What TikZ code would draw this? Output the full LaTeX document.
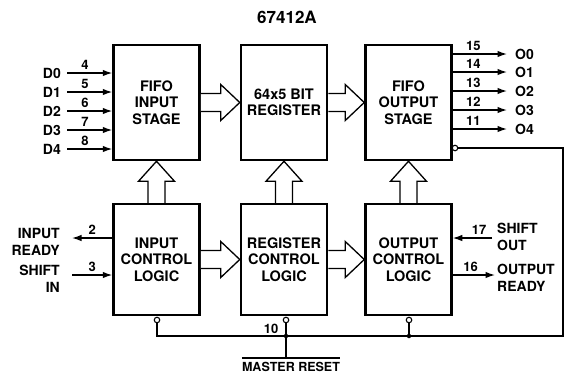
\documentclass[tikz,border=0pt]{standalone}
\usepackage{fontspec}
\setmainfont{TeX Gyre Heros}
\usetikzlibrary{arrows.meta,calc}
\newcommand\hollowH[2]{\draw[hol] let \p1=(#1.east), \p2=(#2.west) in (\x1,\y1+9pt) -- (\x2-19pt,\y1+9pt) -- (\x2-19pt,\y1+18pt) -- (\x2,\y1) -- (\x2-19pt,\y1-18pt) -- (\x2-19pt,\y1-9pt) -- (\x1,\y1-9pt);}
\newcommand\hollowV[2]{\draw[hol] let \p1=(#1.north), \p2=(#2.south) in (\x1-8.5pt,\y1) -- (\x1-8.5pt,\y2-20pt) -- (\x1-18pt,\y2-20pt) -- (\x1,\y2) -- (\x1+18pt,\y2-20pt) -- (\x1+8.5pt,\y2-20pt) -- (\x1+8.5pt,\y1);}
\begin{document}
\begin{tikzpicture}[x=1pt,y=-1pt,
  blk/.style={draw, line width=2.5pt, minimum width=86pt, inner sep=0pt, align=center, font=\bfseries\fontsize{14.5}{16.5}\selectfont},
  sig/.style={line width=1.3pt, -{Latex[length=9.5pt,width=6.5pt]}},
  wire/.style={line width=1.3pt},
  lbl/.style={font=\bfseries\fontsize{14}{17}\selectfont, inner sep=0pt},
  num/.style={font=\bfseries\fontsize{13}{13}\selectfont, inner sep=2.5pt},
  hol/.style={line width=1.3pt, fill=white, line join=miter},
  bub/.style={circle, draw, line width=1.1pt, minimum size=5.5pt, inner sep=0pt, fill=white},
  dot/.style={circle, fill, minimum size=4.5pt, inner sep=0pt}]
\useasboundingbox (0,0) rectangle (567,376);
\node[font=\bfseries\fontsize{17}{20}\selectfont] (title) at (287,17) {67412A};
% blocks
\node[blk, minimum height=115pt] (fin) at (156.5,102.5) {FIFO\\INPUT\\STAGE};
\node[blk, minimum height=115pt] (reg) at (284,102.5) {64x5 BIT\\REGISTER};
\node[blk, minimum height=115pt] (fout) at (408.5,102.5) {FIFO\\OUTPUT\\STAGE};
\node[blk, minimum height=111pt] (icl) at (156.5,259.5) {INPUT\\CONTROL\\LOGIC};
\node[blk, minimum height=111pt] (rcl) at (284,259.5) {REGISTER\\CONTROL\\LOGIC};
\node[blk, minimum height=111pt] (ocl) at (408.5,259.5) {OUTPUT\\CONTROL\\LOGIC};
% hollow arrows
\hollowH{fin}{reg}
\hollowH{reg}{fout}
\hollowH{icl}{rcl}
\hollowH{rcl}{ocl}
\hollowV{icl}{fin}
\hollowV{rcl}{reg}
\hollowV{ocl}{fout}
% data inputs
\foreach \i/\y/\n in {0/73/4,1/92/5,2/111/6,3/130/7,4/149/8} {
  \node[lbl, anchor=east, inner xsep=6pt] (d\i) at (67,\y) {D\i};
  \draw[sig] (d\i.east) -- (d\i.east -| fin.west) node[num, pos=0.4, above] {\n};
}
% data outputs
\foreach \i/\y/\n in {0/54/15,1/72/14,2/91/13,3/110/12,4/129/11} {
  \node[lbl, anchor=west, inner xsep=8pt] (o\i) at (507,\y) {O\i};
  \draw[sig] (o\i.west -| fout.east) -- (o\i.west) node[num, pos=0.38, above] {\n};
}
% input control
\node[lbl, align=right, anchor=east] (ir) at (60,241.5) {INPUT\\READY};
\node[lbl, align=right, anchor=east] (si) at (60,278.5) {SHIFT\\IN};
\coordinate (irp) at (72,238);
\coordinate (sip) at (72,275);
\draw[sig] (irp -| icl.west) -- (irp) node[num, midway, above] {2};
\draw[sig] (sip) -- (sip -| icl.west) node[num, midway, above] {3};
% output control
\node[lbl, align=left, anchor=west] (so) at (497,236.5) {SHIFT\\OUT};
\node[lbl, align=left, anchor=west] (or) at (497,277.5) {OUTPUT\\READY};
\coordinate (sop) at (492,238);
\coordinate (orp) at (495,275);
\draw[sig] (sop) -- (sop -| ocl.east) node[num, pos=0.33, above] {17};
\draw[sig] (orp -| ocl.east) -- (orp) node[num, pos=0.42, above] {16};
% reset bus
\node[bub] (bf) at (455,148) {};
\node[bub] (bi) at (157,320) {};
\node[bub] (br) at (286,320) {};
\node[bub] (bo) at (409,320) {};
\coordinate (c1) at (563,148);
\coordinate (c2) at (563,336);
\draw[wire] (bf.east) -- (c1) -- (c2) -- (bi |- c2) -- (bi.south);
\draw[wire] (br.south) -- (br |- c2);
\draw[wire] (bo.south) -- (bo |- c2);
\node[dot] (dr) at (br |- c2) {};
\node[dot] (do) at (bo |- c2) {};
\node[num] (n10) at (271,329) {10};
\node[font=\bfseries\fontsize{12.5}{14}\selectfont, inner xsep=0pt, inner ysep=4pt] (mr) at (291,367) {MASTER RESET};
\draw[wire] (mr.north west) -- (mr.north east);
\draw[wire] (dr) -- (dr |- mr.north);
\end{tikzpicture}
\end{document}
